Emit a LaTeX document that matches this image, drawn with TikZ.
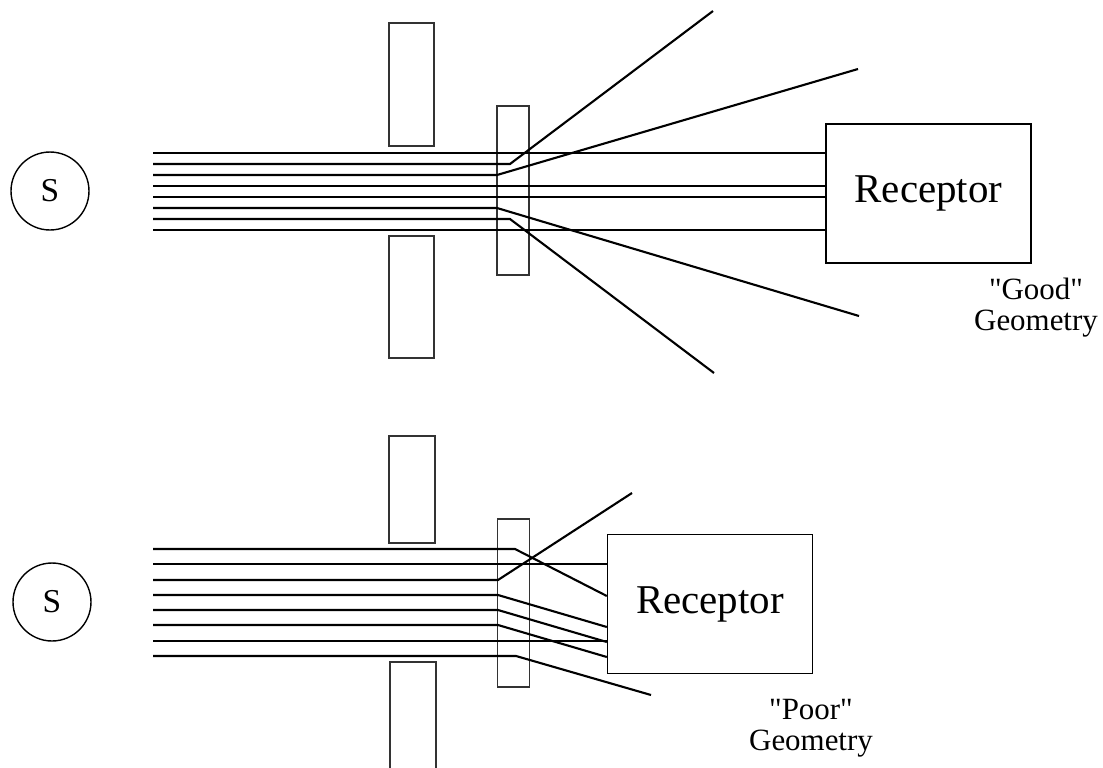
\documentclass[tikz,border=0pt]{standalone}
\usepackage{fontspec}
\setmainfont{Liberation Serif}

\def\upperslitA{(389,23) rectangle (434,146)}
\def\lowerslitA{(389,236) rectangle (434,358)}
\def\upperslitB{(389,436) rectangle (435,543)}
\def\lowerslitB{(390,768) -- (390,662) -- (436,662) -- (436,768)}
\colorlet{beam line}{black!100}
\colorlet{slit edge}{black!80}
\tikzset{
  beam/.style={draw=beam line, line width=1.2pt},
  slit/.style={draw=slit edge, line width=0.8pt},
  scatterer/.style={rectangle, draw=slit edge, line width=0.8pt, minimum width=0.64cm, inner sep=0pt},
  note/.style={align=center, font=\fontsize{17.6}{17.6}\selectfont}
}
\tikzstyle{source}=[circle,draw,line width=0.8pt,minimum size=1.56cm,inner sep=0pt,font=\fontsize{19}{20}\selectfont]
\tikzstyle{receptor}=[rectangle,draw,line width=0.8pt,minimum width=4.1cm,minimum height=2.78cm,font=\fontsize{23.3}{26}\selectfont]

\begin{document}
\begin{tikzpicture}[x=0.02cm, y=-0.02cm]
  \useasboundingbox (0,0) rectangle (1103,768);

  % "good" geometry
  \node[source] (sA) at (50,191) {S};
  \node[receptor] (rA) at (928.5,193.5) {Receptor};
  \node[scatterer, minimum height=3.38cm] (cA) at (513,190.5) {};
  \draw[slit] \upperslitA;
  \draw[slit] \lowerslitA;

  \draw[beam] (153,153) -- (rA.west |- 0,153);
  \draw[beam] (153,164) -- (510,164) -- (713,11);
  \draw[beam] (153,175) -- (497,175) -- (858,69);
  \draw[beam] (153,186) -- (rA.west |- 0,186);
  \draw[beam] (153,197) -- (rA.west |- 0,197);
  \draw[beam] (153,208) -- (497,208) -- (859,316);
  \draw[beam] (153,219) -- (510,219) -- (714,373);
  \draw[beam] (153,230) -- (rA.west |- 0,230);

  \node[note] (gA) at (1036,308) {\textquotedbl Good\textquotedbl\\Geometry};

  % "poor" geometry
  \node[source] (sB) at (52,602) {S};
  \node[receptor] (rB) at (710,604) {Receptor};
  \node[scatterer, minimum height=3.36cm] (cB) at (513.5,603) {};
  \draw[slit] \upperslitB;
  \draw[slit] \lowerslitB;

  \draw[beam] (153,549) -- (515,549) -- (rB.west |- 0,596);
  \draw[beam] (153,564) -- (rB.west |- 0,564);
  \draw[beam] (153,580) -- (498,580) -- (632,493);
  \draw[beam] (153,595) -- (498,595) -- (rB.west |- 0,627);
  \draw[beam] (153,610) -- (498,610) -- (rB.west |- 0,642);
  \draw[beam] (153,625) -- (498,625) -- (rB.west |- 0,657);
  \draw[beam] (153,641) -- (rB.west |- 0,641);
  \draw[beam] (153,656) -- (516,656) -- (651,695);

  \node[note] (gB) at (811,728) {\textquotedbl Poor\textquotedbl\\Geometry};
\end{tikzpicture}
\end{document}
